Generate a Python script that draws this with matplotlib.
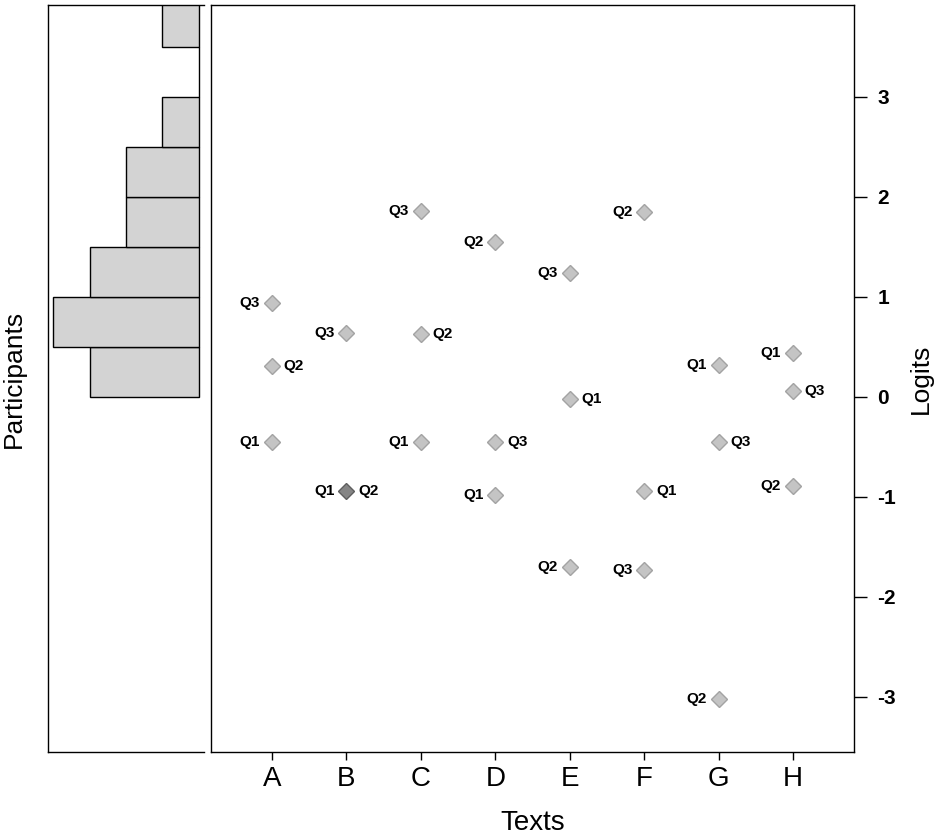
import matplotlib
matplotlib.use("Agg")
import matplotlib.pyplot as plt
import numpy as np

plt.rcParams['font.family'] = ['Liberation Sans', 'DejaVu Sans']

# ---- data ----
texts = ["A", "B", "C", "D", "E", "F", "G", "H"]
q1 = [-0.45, -0.94, -0.45, -0.98, -0.02, -0.94, 0.32, 0.44]
q2 = [0.31, -0.94, 0.63, 1.55, -1.70, 1.85, -3.02, -0.89]
q3 = [0.94, 0.64, 1.86, -0.45, 1.24, -1.73, -0.45, 0.06]
# label side: -1 = left of marker, +1 = right of marker
q1_side = [-1, -1, -1, -1, 1, 1, -1, -1]
q2_side = [1, 1, 1, -1, -1, -1, -1, -1]
q3_side = [-1, -1, -1, 1, -1, -1, 1, 1]

# participant distribution (histogram of person logits)
bin_edges = [0.0, 0.5, 1.0, 1.5, 2.0, 2.5, 3.0, 3.5, 4.0]
bin_counts = [3, 4, 3, 2, 2, 1, 0, 1]

yticks = [-3, -2, -1, 0, 1, 2, 3]

W, H = 935, 835
fig = plt.figure(figsize=(W / 100, H / 100), dpi=100)

bottom = 1 - 752 / H
height = (752 - 5) / H
ax_h = fig.add_axes([48 / W, bottom, (204 - 48) / W, height])
ax = fig.add_axes([211 / W, bottom, (854 - 211) / W, height])

ylim = (-3.55, 3.92)

# ---- histogram panel ----
edges = np.array(bin_edges)
ax_h.barh(edges[:-1], bin_counts, height=np.diff(edges), align='edge',
          color='#d3d3d3', edgecolor='black', linewidth=1.0)
ax_h.set_xlim(4.14, -0.14)
ax_h.set_ylim(*ylim)
ax_h.set_xticks([])
ax_h.set_yticks([])
ax_h.spines['right'].set_visible(False)
for s in ['left', 'top', 'bottom']:
    ax_h.spines[s].set_linewidth(1.0)
ax_h.set_ylabel("Participants", fontsize=19, labelpad=16)

# ---- main panel ----
xs = np.arange(1, len(texts) + 1)
series = [("Q1", q1, q1_side), ("Q2", q2, q2_side), ("Q3", q3, q3_side)]

# count overlapping points to darken them
pts = {}
for name, vals, sides in series:
    for x, v in zip(xs, vals):
        key = (x, round(v, 2))
        pts[key] = pts.get(key, 0) + 1

drawn = set()
for name, vals, sides in series:
    for x, v, sd in zip(xs, vals, sides):
        key = (x, round(v, 2))
        if key not in drawn:
            dup = pts[key] > 1
            ax.plot(x, v, marker='D', markersize=8,
                    markerfacecolor='#858585' if dup else '#c4c4c4',
                    markeredgecolor='#5e5e5e' if dup else '#a3a3a3',
                    markeredgewidth=1.0, linestyle='none', zorder=3)
            drawn.add(key)
        ax.annotate(name, (x, v), xytext=(8.5 * sd, 0), textcoords='offset points',
                    ha='left' if sd > 0 else 'right', va='center',
                    fontsize=11, fontweight='bold', color='black')

ax.set_xlim(0.18, 8.82)
ax.set_ylim(*ylim)
ax.set_xticks(xs)
ax.set_xticklabels(texts, fontsize=20)
ax.tick_params(axis='x', length=6, width=1.0, pad=4)
ax.yaxis.tick_right()
ax.yaxis.set_label_position('right')
ax.set_yticks(yticks)
ax.set_yticklabels([str(t) for t in yticks], fontsize=15, fontweight='bold')
ax.tick_params(axis='y', length=9, width=1.0, pad=8)
for s in ax.spines.values():
    s.set_linewidth(1.0)
ax.set_xlabel("Texts", fontsize=20, labelpad=13)
ax.set_ylabel("Logits", fontsize=19, labelpad=9)

fig.savefig("out.png", dpi=100)
